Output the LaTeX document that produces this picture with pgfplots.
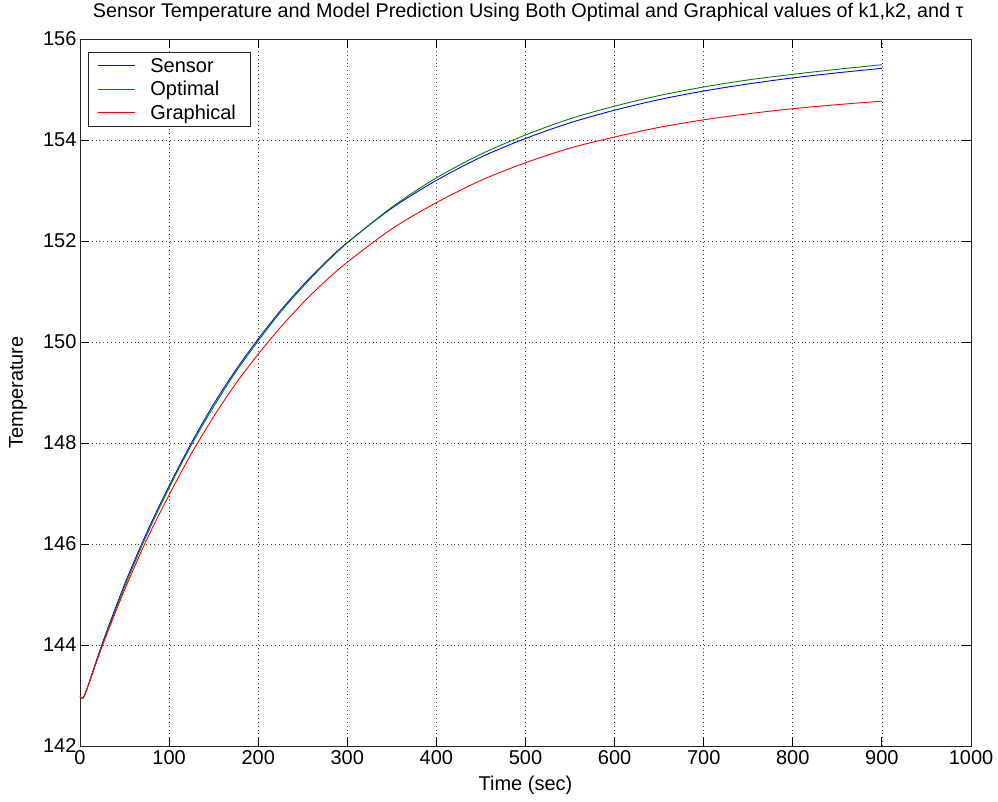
\documentclass[border=0pt]{standalone}
\usepackage{fontspec}
\setmainfont{Liberation Sans}
\usepackage{pgfplots}
\pgfplotsset{compat=1.18}
\definecolor{mgreen}{rgb}{0,0.5,0}
\begin{document}
\begin{tikzpicture}[x=1pt,y=1pt]
\useasboundingbox (-80,-55) rectangle (918,746);
\begin{axis}[
  at={(0,0)}, anchor=south west,
  scale only axis, width=891pt, height=707pt,
  xmin=0, xmax=1000, ymin=142, ymax=156,
  xtick={0,100,...,1000}, ytick={142,144,...,156},
  /pgf/number format/1000 sep={},
  /pgf/number format/assume math mode=true,
  grid=major,
  major grid style={black!75, dash pattern=on 0.9pt off 3pt, line width=0.8pt},
  tick align=inside,
  major tick length=9pt,
  axis line style={black!85, line width=0.9pt},
  tick style={black, line width=0.9pt},
  every tick label/.append style={font=\fontsize{20}{24}\selectfont},
  xticklabel style={yshift=-1pt},
  title={Sensor Temperature and Model Prediction Using Both Optimal and Graphical values of k1,k2, and τ},
  title style={font=\fontsize{19.8}{23}\selectfont, at={(axis description cs:0.503,1)}, anchor=base, yshift=15pt, inner sep=0pt},
  xlabel={Time (sec)},
  xlabel style={font=\fontsize{20}{24}\selectfont, at={(axis description cs:0.5,-0.055)}, anchor=center},
  ylabel={Temperature},
  ylabel style={font=\fontsize{20}{24}\selectfont, at={(axis description cs:-0.0696,0.5)}, anchor=center},
  legend style={at={(axis description cs:0.009,0.982)}, anchor=north west, draw=black!85, fill=white,
    line width=0.9pt, font=\fontsize{20}{24}\selectfont, inner xsep=9pt, inner ysep=4pt, row sep=3.5pt, column sep=10pt,
    nodes={inner xsep=5pt}},
  legend cell align=left,
  legend image code/.code={\draw[mark repeat=2,mark phase=2,#1] plot coordinates {(0cm,0cm) (0.65cm,0cm) (1.3cm,0cm)};},
]
\addplot[blue, line width=0.9pt, smooth] coordinates {
(0,143) (5,143) (25,144.03) (50,145.20) (75,146.23) (100,147.15) (125,148.00) (150,148.77) (175,149.45) (200,150.06)
(225,150.62) (250,151.12) (275,151.57) (300,151.97) (350,152.65) (400,153.20) (450,153.66) (500,154.03) (550,154.34)
(600,154.59) (650,154.80) (700,154.97) (750,155.11) (800,155.23) (850,155.33) (900,155.42)};
\addlegendentry{Sensor}
\addplot[mgreen, line width=0.9pt, smooth] coordinates {
(0,143) (5,143) (25,144.00) (50,145.15) (75,146.18) (100,147.11) (125,147.96) (150,148.72) (175,149.41) (200,150.02)
(225,150.59) (250,151.09) (275,151.55) (300,151.96) (350,152.67) (400,153.25) (450,153.72) (500,154.10) (550,154.42)
(600,154.67) (650,154.88) (700,155.05) (750,155.19) (800,155.30) (850,155.40) (900,155.49)};
\addlegendentry{Optimal}
\addplot[red, line width=0.9pt, smooth] coordinates {
(0,143) (5,143) (25,143.98) (50,145.09) (75,146.09) (100,146.97) (125,147.79) (150,148.52) (175,149.18) (200,149.76)
(225,150.29) (250,150.77) (275,151.20) (300,151.58) (350,152.24) (400,152.76) (450,153.20) (500,153.55) (550,153.84)
(600,154.06) (650,154.25) (700,154.40) (750,154.52) (800,154.62) (850,154.70) (900,154.77)};
\addlegendentry{Graphical}
\end{axis}
\end{tikzpicture}
\end{document}
